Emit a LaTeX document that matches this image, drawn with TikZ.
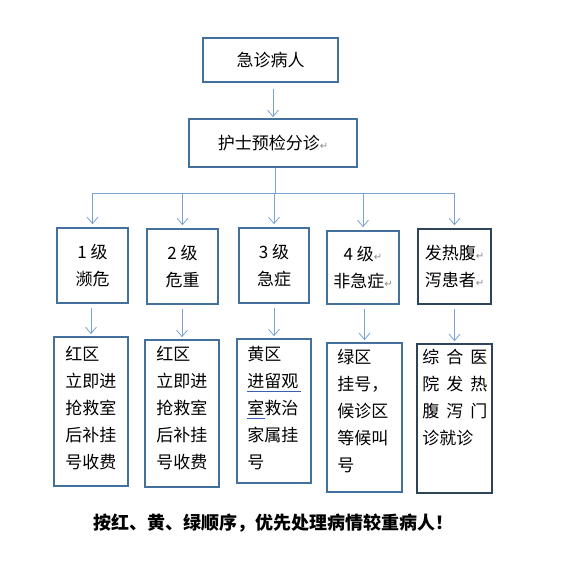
\documentclass[tikz,border=0pt]{standalone}
\usepackage{fontspec}
\setmainfont{Noto Sans CJK SC}
\newfontfamily\symfont{DejaVu Sans}
\usetikzlibrary{arrows.meta,calc}
\definecolor{boxblue}{HTML}{44709E}
\definecolor{boxdark}{HTML}{2E435C}
\definecolor{arrowblue}{HTML}{7AA2D2}
\definecolor{markgray}{HTML}{8A8A8A}
\definecolor{spellblue}{HTML}{3A5FB0}
\newcommand{\pmark}{{\symfont\color{markgray}\fontsize{10}{10}\selectfont ↵}}
\begin{document}
\begin{tikzpicture}[x=1pt,y=-1pt,
  box/.style={draw=boxblue,line width=1.6pt,inner sep=0pt,align=center,
    font=\fontsize{17}{27}\selectfont},
  txt/.style={anchor=north west,inner sep=0pt,align=left,
    font=\fontsize{17}{27}\selectfont},
  arr/.style={draw=arrowblue,line width=0.8pt,-{Straight Barb[length=6.5pt,width=11pt]}},
  ln/.style={draw=arrowblue,line width=0.8pt}]
\useasboundingbox[fill=white] (0,0) rectangle (562,562);
% top boxes
\node[box,minimum width=135pt,minimum height=44pt] (A) at (270.5,60) {急诊病人};
\node[box,minimum width=168pt,minimum height=48pt] (B) at (273,143) {护士预检分诊\pmark};
% level boxes
\node[box,minimum width=71pt,minimum height=75pt] (L1) at (92.5,265.5) {1 级\\濒危};
\node[box,minimum width=71pt,minimum height=75pt] (L2) at (182.5,266.5) {2 级\\危重};
\node[box,minimum width=70pt,minimum height=75pt] (L3) at (274,265.5) {3 级\\急症};
\node[box,minimum width=72pt,minimum height=73pt] (L4) at (363,267.5) {4 级\pmark\\非急症\pmark};
\node[box,draw=boxdark,minimum width=73pt,minimum height=75pt] (L5) at (454.5,266.5) {发热腹\pmark\\泻患者\pmark};
% lower boxes
\node[box,minimum width=74pt,minimum height=149pt] (D1) at (91,411.5) {};
\node[box,minimum width=74pt,minimum height=147pt] (D2) at (182,413.5) {};
\node[box,minimum width=74pt,minimum height=144pt] (D3) at (274,411) {};
\node[box,minimum width=75pt,minimum height=149pt] (D4) at (364.5,417.5) {};
\node[box,draw=boxdark,minimum width=75pt,minimum height=149pt] (D5) at (454.5,418.5) {};
% texts in lower boxes
\node[txt] (T1) at ($(D1.north west)+(12,10)$) {红区\\立即进\\抢救室\\后补挂\\号收费};
\node[txt] (T2) at ($(D2.north west)+(12,7)$) {红区\\立即进\\抢救室\\后补挂\\号收费};
\node[txt] (T3) at ($(D3.north west)+(11,8)$) {黄区\\进留观\\室救治\\家属挂\\号};
\node[txt] (T4) at ($(D4.north west)+(11,7)$) {绿区\\挂号，\\候诊区\\等候叫\\号};
\node[txt] (T5) at ($(D5.north west)+(6,6)$) {综\hspace{7pt}合\hspace{7pt}医\\院\hspace{7pt}发\hspace{7pt}热\\腹\hspace{7pt}泻\hspace{7pt}门\\诊就诊};
% spell-check underlines
\draw[spellblue,line width=0.7pt] ($(T3.north west)+(0,45.5)$) -- ++(54,0);
\draw[spellblue,line width=0.7pt] ($(T3.north west)+(0,72.5)$) -- ++(18,0);
% bottom text
\node[inner sep=0pt,font=\fontsize{18}{18}\selectfont\bfseries] (N) at (273,523) {按红、黄、绿顺序，优先处理病情较重病人！};
% connectors
\draw[arr,shorten <=6pt,shorten >=1pt] (A.south -| B.north) -- (B.north);
\coordinate (bar) at (275,193);
\draw[ln] (B.south -| bar) -- (bar);
\draw[ln] (L1.north |- bar) -- (L5.north |- bar);
\foreach \n in {L1,L2,L3,L4,L5}{
  \draw[arr,shorten >=3pt] (\n.north |- bar) -- (\n.north);
}
\foreach \a/\b in {L1/D1,L2/D2,L3/D3,L4/D4,L5/D5}{
  \draw[arr,shorten <=4pt,shorten >=2pt] (\a.south -| \b.north) -- (\b.north);
}
\end{tikzpicture}
\end{document}
